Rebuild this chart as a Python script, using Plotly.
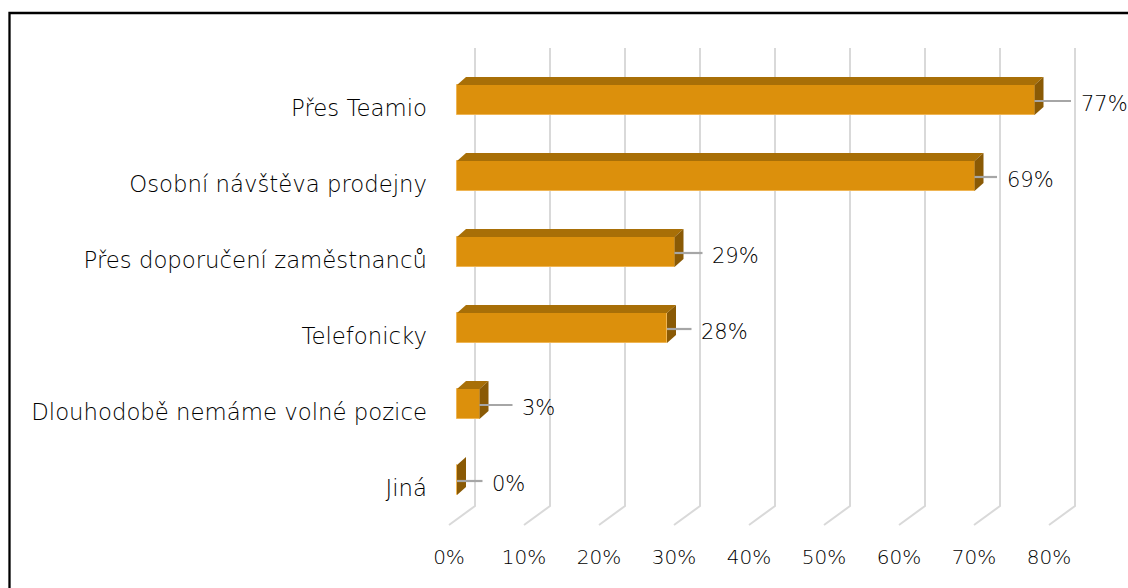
import plotly.graph_objects as go

# ---------------- data ----------------
categories = [
    "Přes Teamio",
    "Osobní návštěva prodejny",
    "Přes doporučení zaměstnanců",
    "Telefonicky",
    "Dlouhodobě nemáme volné pozice",
    "Jiná",
]
values = [77, 69, 29, 28, 3, 0]
value_labels = ["77%", "69%", "29%", "28%", "3%", "0%"]
x_ticks = [0, 10, 20, 30, 40, 50, 60, 70, 80]
x_tick_labels = ["0%", "10%", "20%", "30%", "40%", "50%", "60%", "70%", "80%"]

# ---------------- layout geometry (styling) ----------------
W, H = 1128, 588
L, R, T, B = 440, 0, 0, 53
PX_PER_PCT = 7.5          # horizontal scale
PX_PER_ROW = 76           # vertical distance between bars
X0_PX = 457               # pixel of 0 % on the bars' front plane
Y0_PX = 100               # pixel centre of first bar
plot_w = W - L - R
plot_h = H - T - B

def dx(px):
    return px / PX_PER_PCT

def dy(px):
    return px / PX_PER_ROW

def yd(py):
    return (py - Y0_PX) / PX_PER_ROW

def paper_x(px):
    return (px - L) / plot_w

def paper_y(py):
    return 1 - (py - T) / plot_h

x_range = [(L - X0_PX) / PX_PER_PCT, (W - R - X0_PX) / PX_PER_PCT]
y_range = [(H - B - Y0_PX) / PX_PER_ROW, (T - Y0_PX) / PX_PER_ROW]

FRONT = "#DC900C"
TOP = "#A86F07"
SIDE = "#8A5A05"
EDGE = "#EFB554"
GRID = "#D9D9D9"
LEADER = "#A6A6A6"
TEXT = "#000000"
FONT = "DejaVu Sans"
WEIGHT = 200

BAR_H = dy(30)
DEPTH_X = dx(9)
DEPTH_Y = -dy(8)
WALL_DX = dx(18)
FLOOR_DX = dx(-26)
label_gap_px = [46, 32, 37.5, 34, 42.5, 35]

pos = list(range(len(categories)))

fig = go.Figure()
fig.add_trace(go.Bar(
    x=values, y=pos, orientation="h", width=BAR_H, base=0,
    marker=dict(color=FRONT, line=dict(color=EDGE, width=1)),
    hoverinfo="skip", showlegend=False,
))

shapes = []
# 3D gridlines (back wall + floor)
for t in x_ticks:
    xb = t + WALL_DX
    shapes.append(dict(
        type="path", xref="x", yref="y", layer="below",
        path=f"M {xb},{yd(48)} L {xb},{yd(506)} L {xb + FLOOR_DX},{yd(525)}",
        line=dict(color=GRID, width=2),
    ))

# 3D faces of bars
for p, v in zip(pos, values):
    yt = p - BAR_H / 2
    yb = p + BAR_H / 2
    if v > 0:
        shapes.append(dict(
            type="path", xref="x", yref="y", layer="above",
            path=(f"M 0,{yt} L {v},{yt} L {v + DEPTH_X},{yt + DEPTH_Y} "
                  f"L {DEPTH_X},{yt + DEPTH_Y} Z"),
            fillcolor=TOP, line=dict(width=0),
        ))
    shapes.append(dict(
        type="path", xref="x", yref="y", layer="above",
        path=(f"M {v},{yt} L {v + DEPTH_X},{yt + DEPTH_Y} "
              f"L {v + DEPTH_X},{yb + DEPTH_Y} L {v},{yb} Z"),
        fillcolor=SIDE, line=dict(width=0),
    ))

# leader lines + value labels
annotations = []
for p, v, lab, gap in zip(pos, values, value_labels, label_gap_px):
    yl = p + dy(1)
    shapes.append(dict(
        type="line", xref="x", yref="y", layer="above",
        x0=v, x1=v + dx(gap - 9.5), y0=yl, y1=yl,
        line=dict(color=LEADER, width=2.2),
    ))
    annotations.append(dict(
        x=v + dx(gap - 2), y=p + dy(3.5), xref="x", yref="y",
        text=lab, showarrow=False, xanchor="left", yanchor="middle",
        font=dict(family=FONT, size=21, color=TEXT, weight=WEIGHT),
    ))

# outer frame (top and left edges)
shapes.append(dict(
    type="path", xref="paper", yref="paper", layer="above",
    path=(f"M {paper_x(9.5)},{paper_y(600)} L {paper_x(9.5)},{paper_y(13)} "
          f"L {paper_x(1140)},{paper_y(13)}"),
    line=dict(color="black", width=2.3),
))

fig.update_layout(
    width=W, height=H,
    margin=dict(l=L, r=R, t=T, b=B, pad=0),
    paper_bgcolor="white", plot_bgcolor="white",
    shapes=shapes, annotations=annotations,
    bargap=0,
    xaxis=dict(
        range=x_range, showgrid=False, zeroline=False, showline=False,
        tickmode="array",
        tickvals=[t + WALL_DX + FLOOR_DX for t in x_ticks],
        ticktext=x_tick_labels, ticks="",
        tickfont=dict(family=FONT, size=20, color=TEXT, weight=WEIGHT),
        ticklabelstandoff=8,
    ),
    yaxis=dict(
        range=y_range, showgrid=False, zeroline=False, showline=False,
        tickmode="array",
        tickvals=[p + dy(8.5) for p in pos],
        ticktext=categories, ticks="",
        tickfont=dict(family=FONT, size=22.8, color=TEXT, weight=WEIGHT),
        ticklabelstandoff=12,
    ),
    showlegend=False,
)

fig.write_html("out.html")
